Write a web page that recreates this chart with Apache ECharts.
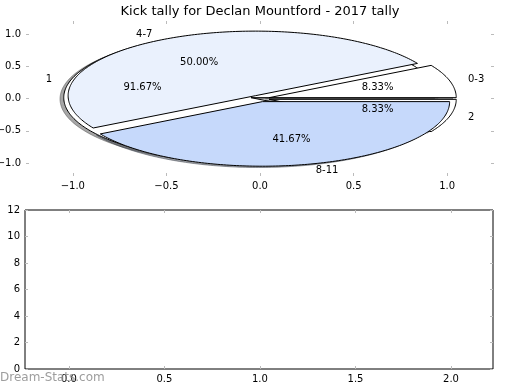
<!DOCTYPE html>
<html>
<head>
<meta charset="utf-8">
<script src="https://cdn.jsdelivr.net/npm/echarts@6/dist/echarts.min.js"></script>
<style>html,body{margin:0;padding:0;background:#fff}#c{width:520px;height:390px}</style>
</head>
<body>
<div id="c"></div>
<script>
// ---- data ----
const titleText = 'Kick tally for Declan Mountford - 2017 tally';
const outerLabels = ['0-3', '4-7', '8-11'];
const outerValues = [1, 6, 5];
const innerLabels = ['1', '2'];
const innerValues = [11, 1];
const outerColors = ['#ffffff', '#eaf1fd', '#c6d9fb'];
const innerColors = ['#ffffff', '#ffffff'];
const pieXTicks = [-1, -0.5, 0, 0.5, 1];
const pieYTicks = [-1, -0.5, 0, 0.5, 1];
const barXTicks = [0, 0.5, 1, 1.5, 2];
const barYTicks = [0, 2, 4, 6, 8, 10, 12];
const watermark = 'Dream-Stats.com';

const FONT = 'DejaVu Sans';
const EXPLODE = 0.05;

function buildWedges(values, labels, colors) {
  const total = values.reduce((a, b) => a + b, 0);
  let theta = 0;
  return values.map((v, i) => {
    const t1 = theta, t2 = theta + 360 * v / total;
    theta = t2;
    const mid = (t1 + t2) / 2 * Math.PI / 180;
    return {
      t1, t2, mid, frac: v / total, label: labels[i], color: colors[i],
      cx: EXPLODE * Math.cos(mid), cy: EXPLODE * Math.sin(mid)
    };
  });
}
// inner pie drawn first (underneath), outer pie on top
const wedges = buildWedges(innerValues, innerLabels, innerColors)
  .concat(buildWedges(outerValues, outerLabels, outerColors));

function wedgePoints(w, api, ox, oy) {
  const pts = [api.coord([w.cx + ox, w.cy + oy])];
  const n = Math.max(2, Math.ceil(w.t2 - w.t1));
  for (let k = 0; k <= n; k++) {
    const a = (w.t1 + (w.t2 - w.t1) * k / n) * Math.PI / 180;
    pts.push(api.coord([w.cx + ox + Math.cos(a), w.cy + oy + Math.sin(a)]));
  }
  return pts;
}
function hexToRgb(h) {
  return [parseInt(h.substr(1, 2), 16), parseInt(h.substr(3, 2), 16), parseInt(h.substr(5, 2), 16)];
}
const fmt = v => (Math.abs(v) < 1e-9 ? 0 : v).toFixed(1).replace('-', '\u2212');

const chart = echarts.init(document.getElementById('c'), null, {renderer: 'canvas'});

function tickAxis(dim, grid, pos, min, max, ticks, showLabel) {
  return {
    type: 'value', gridIndex: grid, position: pos, min: min, max: max,
    axisLine: {show: false, onZero: false}, splitLine: {show: false},
    axisTick: {show: true, inside: true, length: 3, customValues: ticks, lineStyle: {color: '#bbbbbb', width: 1}},
    axisLabel: {show: showLabel, customValues: ticks, formatter: dim === 'ybar' ? (v => String(v)) : fmt,
      fontFamily: FONT, fontSize: 10, color: '#000', margin: 5}
  };
}

const option = {
  animation: false,
  backgroundColor: '#fff',
  title: {text: titleText, left: 'center', top: 0,
    textStyle: {fontFamily: FONT, fontSize: 13, fontWeight: 'normal', color: '#000'}},
  grid: [
    {left: 26, right: 26, top: 21, bottom: 214, outerBoundsMode: 'none'},
    {left: 25, right: 27, top: 210, bottom: 21, show: true, borderColor: '#000', borderWidth: 1,
      backgroundColor: 'transparent', outerBoundsMode: 'none'}
  ],
  xAxis: [
    tickAxis('x', 0, 'bottom', -1.25, 1.25, pieXTicks, true),
    tickAxis('x', 0, 'top', -1.25, 1.25, pieXTicks, false),
    tickAxis('x', 1, 'bottom', -0.23, 2.22, barXTicks, true),
    tickAxis('x', 1, 'top', -0.23, 2.22, barXTicks, false)
  ],
  yAxis: [
    tickAxis('y', 0, 'left', -1.2, 1.2, pieYTicks, true),
    tickAxis('y', 0, 'right', -1.2, 1.2, pieYTicks, false),
    tickAxis('ybar', 1, 'left', 0, 12, barYTicks, true),
    tickAxis('ybar', 1, 'right', 0, 12, barYTicks, false)
  ],
  graphic: [{
    type: 'text', left: 0, top: 372, z: 100,
    style: {text: watermark, fill: 'rgba(140,140,140,0.85)', font: '12px "DejaVu Sans"'}
  }],
  series: [
    { // shadows
      type: 'custom', xAxisIndex: 0, yAxisIndex: 0, z: 1, silent: true,
      data: wedges.map((w, i) => [i]),
      renderItem: function (params, api) {
        const w = wedges[params.dataIndex];
        const c = hexToRgb(w.color).map(v => Math.round(v * 0.3));
        const col = 'rgba(' + c.join(',') + ',0.5)';
        return {type: 'polygon', shape: {points: wedgePoints(w, api, -0.02, -0.02)},
          style: {fill: col, stroke: col, lineWidth: 1}};
      }
    },
    { // wedges
      type: 'custom', xAxisIndex: 0, yAxisIndex: 0, z: 2, silent: true,
      data: wedges.map((w, i) => [i]),
      renderItem: function (params, api) {
        const w = wedges[params.dataIndex];
        return {type: 'polygon', shape: {points: wedgePoints(w, api, 0, 0)},
          style: {fill: w.color, stroke: '#000', lineWidth: 1, lineJoin: 'round'}};
      }
    },
    { // texts
      type: 'custom', xAxisIndex: 0, yAxisIndex: 0, z: 3, silent: true,
      data: wedges.map((w, i) => [i]),
      renderItem: function (params, api) {
        const w = wedges[params.dataIndex];
        const lx = w.cx + 1.1 * Math.cos(w.mid), ly = w.cy + 1.1 * Math.sin(w.mid);
        const px = w.cx + 0.6 * Math.cos(w.mid), py = w.cy + 0.6 * Math.sin(w.mid);
        const lp = api.coord([lx, ly]), pp = api.coord([px, py]);
        return {type: 'group', children: [
          {type: 'text', x: lp[0], y: lp[1], style: {text: w.label, align: lx > 0 ? 'left' : 'right',
            verticalAlign: 'middle', fill: '#000', font: '10px "DejaVu Sans"'}},
          {type: 'text', x: pp[0], y: pp[1], style: {text: (w.frac * 100).toFixed(2) + '%', align: 'center',
            verticalAlign: 'middle', fill: '#000', font: '10px "DejaVu Sans"'}}
        ]};
      }
    },
    {type: 'bar', xAxisIndex: 2, yAxisIndex: 2, data: []}
  ]
};
chart.setOption(option);
</script>
</body>
</html>
